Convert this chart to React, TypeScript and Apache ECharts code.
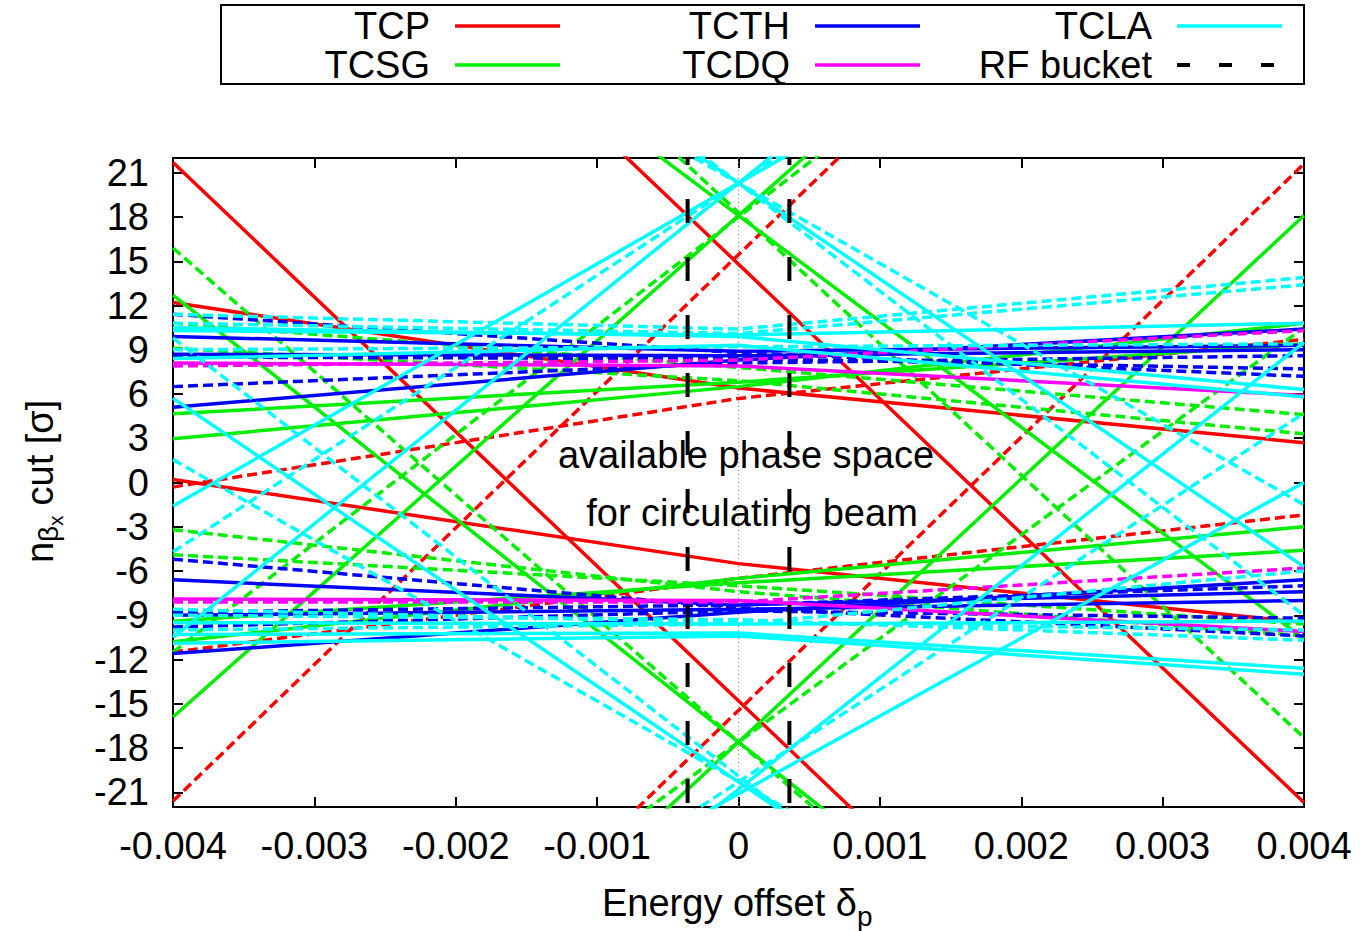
import React, { useEffect, useRef } from "react";
import * as echarts from "echarts";

// Energy offsets at which each line's values are given
const DELTA_2 = [-0.004, 0.004];
const DELTA_3 = [-0.004, 0, 0.004];

// Tick labels
const X_TICKS = [-0.004, -0.003, -0.002, -0.001, 0, 0.001, 0.002, 0.003, 0.004];
const Y_TICKS = [-21, -18, -15, -12, -9, -6, -3, 0, 3, 6, 9, 12, 15, 18, 21];

// RF bucket limits
const RF_BUCKET = [-0.00036, 0.00036];

// n_cut values [left, (centre), right] for each jaw line
const TCP_SOLID = [
  [21.7, -51.3],
  [51.3, -21.7],
  [12.2, 6.4, 2.7],
  [0.2, -5.5, -9.5],
];
const TCP_DASHED = [
  [-21.6, 52.5],
  [-52.5, 21.6],
  [-0.3, 5.7, 9.7],
  [-11.5, -6.5, -2.2],
];
const TCSG_SOLID = [
  [12.7, -47.9],
  [46.8, -10.6],
  [-15.9, 52.1],
  [-53.3, 18.1],
  [4.66, 6.8, 9.4],
  [2.96, 6.5, 10.8],
  [-9.4, -6.8, -4.6],
  [-10.8, -6.5, -3.0],
];
const TCSG_DASHED = [
  [15.9, -51.1],
  [53.9, -17.3],
  [-11.5, 47.5],
  [-45.7, 10.5],
  [10.8, 7.8, 4.6],
  [9.1, 6.9, 3.3],
  [-3.2, -7.4, -10.4],
  [-4.9, -7.0, -9.6],
];
const TCTH_SOLID = [
  [5.1, 8.3, 10.4],
  [9.9, 8.9, 9.3],
  [8.7, 8.6, 9.0],
  [-11.6, -8.8, -6.6],
  [-6.6, -8.3, -7.4],
  [-9.0, -8.6, -8.0],
];
const TCTH_DASHED = [
  [11.4, 8.8, 7.2],
  [6.5, 8.1, 8.6],
  [8.5, 8.4, 7.7],
  [-5.2, -8.5, -10.4],
  [-8.8, -8.3, -7.0],
  [-9.8, -8.7, -9.2],
];
const TCDQ_SOLID = [
  [8.1, 7.9, 5.9],
  [-7.9, -8.0, -10.1],
];
const TCDQ_DASHED = [
  [7.9, 8.3, 10.3],
  [-8.1, -8.1, -5.8],
];
const TCLA_SOLID = [
  [-1.6, 42.2],
  [-10.5, 51.1],
  [46.3, -5.7],
  [5.7, -46.3],
  [-42.2, 0.0],
  [-51.1, 9.5],
  [10.3, 10.0, 10.8],
  [10.5, 9.9, 6.3],
  [8.4, 9.3, 5.8],
  [-10.3, -10.2, -12.6],
  [-10.9, -10.4, -13.0],
  [-9.5, -9.6, -9.4],
];
const TCLA_DASHED = [
  [-4.7, 45.3],
  [49.6, -9.0],
  [42.1, -1.5],
  [9.8, -49.6],
  [1.55, -42.1],
  [-45.3, 4.7],
  [11.4, 10.4, 13.9],
  [10.8, 10.1, 13.4],
  [9.0, 9.2, 9.4],
  [-8.6, -9.5, -10.0],
  [-10.0, -9.6, -6.0],
  [-9.0, -9.3, -10.7],
];

const RED = "#ff0000";
const GREEN = "#00ee00";
const BLUE = "#0000ff";
const MAGENTA = "#ff00ff";
const CYAN = "#00ffff";
const FONT = '"Liberation Sans", Arial, Helvetica, sans-serif';
const DASH = [10, 5];
const FS = 38;

function toPoints(vals: number[]) {
  const xs = vals.length === 3 ? DELTA_3 : DELTA_2;
  return vals.map((v, i) => [xs[i], v]);
}

function lineSeries(lines: number[][], color: string, dashed: boolean, z: number) {
  return lines.map((vals) => ({
    type: "line",
    data: toPoints(vals),
    symbol: "none",
    showSymbol: false,
    clip: true,
    silent: true,
    z,
    lineStyle: { color, width: 3.5, type: dashed ? DASH : "solid" },
  }));
}

function txt(text: string, x: number, y: number, size: number, align: string, extra: any = {}) {
  return {
    type: "text",
    x,
    y,
    silent: true,
    style: {
      text,
      fill: "#000",
      fontSize: size,
      fontFamily: FONT,
      align,
      textAlign: align,
      verticalAlign: "middle",
      textVerticalAlign: "middle",
      ...extra,
    },
  };
}

function legendLine(x1: number, x2: number, y: number, color: string, dash?: number[]) {
  return {
    type: "line",
    silent: true,
    shape: { x1, y1: y, x2, y2: y },
    style: { stroke: color, lineWidth: dash ? 4 : 3.5, lineDash: dash || null },
  };
}

export default function App() {
  const ref = useRef<HTMLDivElement>(null);

  useEffect(() => {
    if (!ref.current) return;
    const chart = echarts.init(ref.current, undefined, { renderer: "svg" });

    const series: any[] = [
      ...lineSeries(TCP_SOLID, RED, false, 2),
      ...lineSeries(TCP_DASHED, RED, true, 2),
      ...lineSeries(TCSG_SOLID, GREEN, false, 3),
      ...lineSeries(TCSG_DASHED, GREEN, true, 3),
      ...lineSeries(TCTH_SOLID, BLUE, false, 4),
      ...lineSeries(TCTH_DASHED, BLUE, true, 4),
      ...lineSeries(TCDQ_SOLID, MAGENTA, false, 5),
      ...lineSeries(TCDQ_DASHED, MAGENTA, true, 5),
      ...lineSeries(TCLA_SOLID, CYAN, false, 6),
      ...lineSeries(TCLA_DASHED, CYAN, true, 6),
      {
        type: "line",
        data: [[0, -22], [0, 22]],
        symbol: "none",
        silent: true,
        z: 1,
        lineStyle: { color: "#888", width: 1, type: [1, 3] },
      },
      ...RF_BUCKET.map((d) => ({
        type: "line",
        data: [[d, -22], [d, 22]],
        symbol: "none",
        silent: true,
        z: 7,
        lineStyle: { color: "#000", width: 4, type: [24, 34], dashOffset: -4 },
      })),
    ];

    const axisLineStyle = { color: "#000", width: 2 };
    const tickStyle = { show: true, inside: true, length: 10, lineStyle: { color: "#000", width: 2 } };

    const option: any = {
      animation: false,
      backgroundColor: "#fff",
      grid: { left: 173, right: 57, top: 158, bottom: 124, containLabel: false },
      xAxis: [
        {
          type: "value",
          min: -0.004,
          max: 0.004,
          interval: 0.001,
          axisLine: { show: true, onZero: false, lineStyle: axisLineStyle },
          axisTick: tickStyle,
          splitLine: { show: false },
          axisLabel: {
            color: "#000",
            fontSize: FS,
            fontFamily: FONT,
            margin: 20,
            customValues: X_TICKS,
            formatter: (v: number) => (Math.abs(v) < 1e-9 ? "0" : v.toFixed(3)),
          },
        },
        {
          type: "value",
          position: "top",
          min: -0.004,
          max: 0.004,
          interval: 0.001,
          axisLine: { show: true, onZero: false, lineStyle: axisLineStyle },
          axisTick: tickStyle,
          splitLine: { show: false },
          axisLabel: { show: false },
        },
      ],
      yAxis: [
        {
          type: "value",
          min: -22,
          max: 22,
          axisLine: { show: true, onZero: false, lineStyle: axisLineStyle },
          axisTick: { ...tickStyle, customValues: Y_TICKS },
          splitLine: { show: false },
          axisLabel: {
            color: "#000",
            fontSize: FS,
            fontFamily: FONT,
            margin: 24,
            customValues: Y_TICKS,
          },
        },
        {
          type: "value",
          position: "right",
          min: -22,
          max: 22,
          axisLine: { show: true, onZero: false, lineStyle: axisLineStyle },
          axisTick: { ...tickStyle, customValues: Y_TICKS },
          splitLine: { show: false },
          axisLabel: { show: false },
        },
      ],
      series,
      graphic: [
        // legend box
        {
          type: "rect",
          silent: true,
          shape: { x: 221, y: 5, width: 1083, height: 79 },
          style: { fill: "#fff", stroke: "#000", lineWidth: 2 },
        },
        txt("TCP", 430, 26, FS, "right"),
        legendLine(455, 560, 26, RED),
        txt("TCTH", 790, 26, FS, "right"),
        legendLine(815, 920, 26, BLUE),
        txt("TCLA", 1152, 26, FS, "right"),
        legendLine(1177, 1282, 26, CYAN),
        txt("TCSG", 430, 65, FS, "right"),
        legendLine(455, 560, 65, GREEN),
        txt("TCDQ", 790, 65, FS, "right"),
        legendLine(815, 920, 65, MAGENTA),
        txt("RF bucket", 1152, 65, FS, "right"),
        legendLine(1177, 1282, 65, "#000", [13, 29]),
        // annotations
        { ...txt("available phase space", 746, 455, FS, "center"), z: 100 },
        { ...txt("for circulating beam", 752, 513, FS, "center"), z: 100 },
        // x-axis title
        txt("Energy offset δ", 602, 903, FS, "left"),
        txt("p", 857, 916, 28, "left"),
        // y-axis title
        {
          type: "group",
          x: 40,
          y: 483,
          rotation: Math.PI / 2,
          silent: true,
          children: [
            txt("n", -80, 0, FS, "left"),
            txt("β", -59, 8, 28, "left"),
            txt("x", -43, 15, 21, "left"),
            txt(" cut [σ]", -33, 0, FS, "left"),
          ],
        },
      ],
    };

    chart.setOption(option);
    return () => chart.dispose();
  }, []);

  return (
    <div
      ref={ref}
      style={{ position: "absolute", left: 0, top: 0, width: 1361, height: 931, background: "#fff" }}
    />
  );
}
